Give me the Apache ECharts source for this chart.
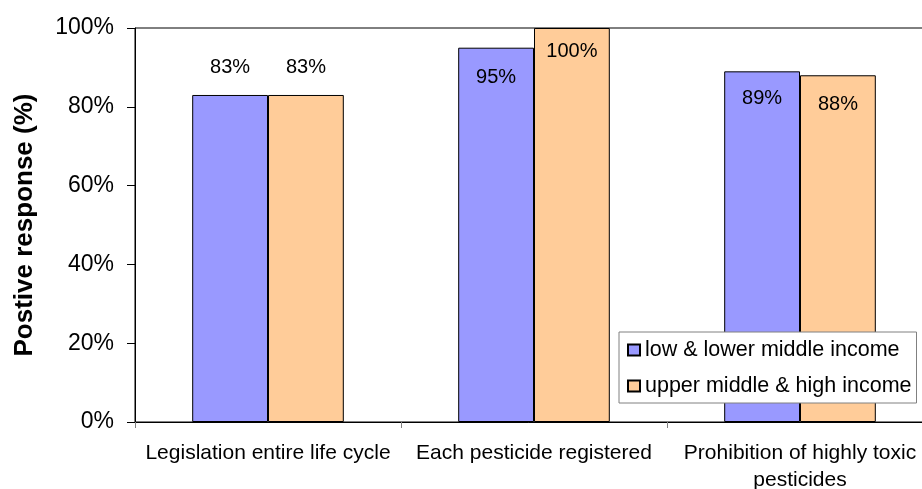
<!DOCTYPE html>
<html>
<head>
<meta charset="utf-8">
<script src="https://cdn.jsdelivr.net/npm/echarts@6/dist/echarts.min.js"></script>
<style>
html, body { margin: 0; padding: 0; background: #fff; }
#chart { width: 922px; height: 489px; }
</style>
</head>
<body>
<div id="chart"></div>
<script>
// data
var categories = ['Legislation entire life cycle', 'Each pesticide registered', 'Prohibition of highly toxic\npesticides'];
var seriesNames = ['low & lower middle income', 'upper middle & high income'];
var lowIncome = [83, 95, 89];
var highIncome = [83, 100, 88];
var yTicks = [0, 20, 40, 60, 80, 100];

// label offsets (Excel placed them by hand)
var lowOffsets = [-37, 20, 17];
var highOffsets = [-37, 13, 19];

var FONT = '"Liberation Sans", Arial, sans-serif';

function makeData(values, offsets){
	return values.map(function(v, i){
		return { value: v, label: { offset: [0, offsets[i]] } };
	});
}

var myChart = echarts.init(document.getElementById('chart'));

myChart.setOption({
	animation: false,
	textStyle: { fontFamily: FONT },
	grid: {
		left: 135,
		top: 28,
		width: 798,   // plot runs past the right edge like the original
		height: 394,
		outerBoundsMode: 'none',
		containLabel: false,
		show: true,
		borderColor: '#000',
		borderWidth: 1,
		backgroundColor: 'transparent'
	},
	legend: {
		orient: 'vertical',
		left: 619,
		top: 332,
		padding: [7, 5, 6, 8],
		itemGap: 14,
		itemWidth: 12,
		itemHeight: 11,
		backgroundColor: '#fff',
		borderColor: '#808080',
		borderWidth: 1,
		borderRadius: 0,
		icon: 'rect',
		textStyle: { fontFamily: FONT, fontSize: 21.5, color: '#000' },
		data: seriesNames
	},
	xAxis: {
		type: 'category',
		data: categories,
		axisLine: { lineStyle: { color: '#000', width: 1 } },
		axisTick: { show: true, length: 6, lineStyle: { color: '#808080' } },
		axisLabel: {
			interval: 0,
			margin: 18,
			fontSize: 21,
			lineHeight: 27,
			color: '#000',
			fontFamily: FONT
		}
	},
	yAxis: {
		type: 'value',
		min: yTicks[0],
		max: yTicks[yTicks.length - 1],
		interval: 20,
		name: 'Postive response (%)',
		nameLocation: 'middle',
		nameGap: 97,
		nameTextStyle: { fontSize: 26, fontWeight: 'bold', color: '#000', fontFamily: FONT },
		splitLine: { show: false },
		axisLine: { show: true, lineStyle: { color: '#000', width: 1 } },
		axisTick: { show: true, length: 8, lineStyle: { color: '#000' } },
		axisLabel: {
			margin: 21,
			fontSize: 23,
			color: '#000',
			fontFamily: FONT,
			formatter: '{value}%'
		}
	},
	series: [
		{
			name: seriesNames[0],
			type: 'bar',
			barGap: '0%',
			barCategoryGap: '43%',
			itemStyle: { color: '#9999FF', borderColor: '#000', borderWidth: 1 },
			label: {
				show: true,
				position: 'insideTop',
				distance: 0,
				fontSize: 20,
				color: '#000',
				fontFamily: FONT,
				formatter: '{c}%'
			},
			data: makeData(lowIncome, lowOffsets)
		},
		{
			name: seriesNames[1],
			type: 'bar',
			barGap: '0%',
			barCategoryGap: '43%',
			itemStyle: { color: '#FFCC99', borderColor: '#000', borderWidth: 1 },
			label: {
				show: true,
				position: 'insideTop',
				distance: 0,
				fontSize: 20,
				color: '#000',
				fontFamily: FONT,
				formatter: '{c}%'
			},
			data: makeData(highIncome, highOffsets)
		}
	]
});
</script>
</body>
</html>
